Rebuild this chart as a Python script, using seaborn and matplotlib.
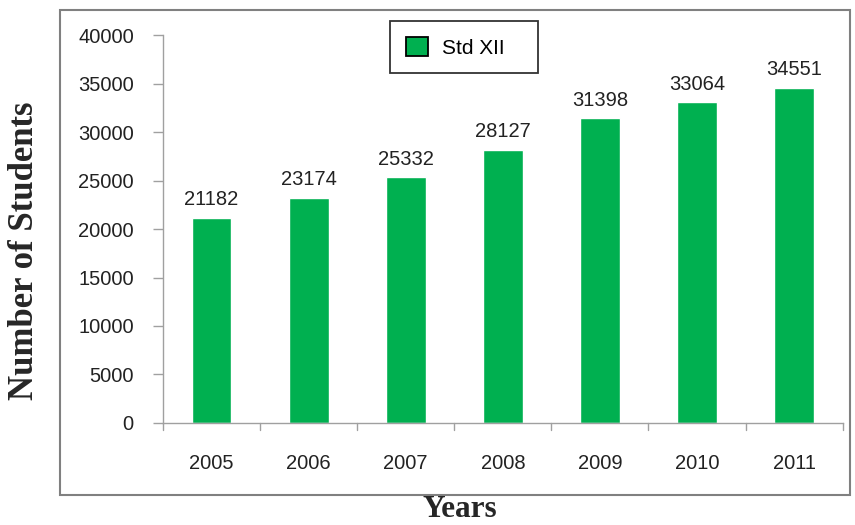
import matplotlib
matplotlib.use('Agg')
import matplotlib.pyplot as plt
import seaborn as sns
import pandas as pd
from matplotlib.patches import Rectangle, Patch

years = ['2005', '2006', '2007', '2008', '2009', '2010', '2011']
students = [21182, 23174, 25332, 28127, 31398, 33064, 34551]
series_name = 'Std XII'

df = pd.DataFrame({'Year': years, 'Students': students})

sns.set_style('white')
plt.rcParams['font.family'] = ['Liberation Sans', 'DejaVu Sans']

fig = plt.figure(figsize=(8.55, 5.25), dpi=100)
ax = fig.add_axes([0.1906, 0.1943, 0.795, 0.739])

green = '#00B050'
sns.barplot(data=df, x='Year', y='Students', color=green, width=0.41,
            saturation=1, ax=ax)

# value labels
for i, v in enumerate(students):
    ax.text(i, v + 900, str(v), ha='center', va='bottom', fontsize=14.5, color='#222222')

ax.set_ylim(0, 40000)
ax.set_xlim(-0.5, len(years) - 0.5)
ax.set_yticks(range(0, 40001, 5000))
ax.tick_params(axis='y', labelsize=14.5, colors='#222222', length=7, width=1,
               direction='out', left=True, pad=14)
ax.tick_params(axis='y', color='#a0a0a0')
ax.tick_params(axis='x', labelsize=14.5, labelcolor='#222222', length=0, pad=22)

# category separators on x axis
for b in [i - 0.5 for i in range(len(years) + 1)]:
    ax.plot([b, b], [0, -0.018], transform=ax.get_xaxis_transform(),
            color='#a0a0a0', lw=1, clip_on=False)

for s in ['top', 'right']:
    ax.spines[s].set_visible(False)
for s in ['left', 'bottom']:
    ax.spines[s].set_color('#a0a0a0')
    ax.spines[s].set_linewidth(1)

ax.set_xlabel('')
ax.set_ylabel('')

# outer chart box
fig.patches.append(Rectangle((0.0702, 0.057), 0.924, 0.924, transform=fig.transFigure,
                             fill=False, edgecolor='#808080', lw=1.5))

fig.text(0.029, 0.522, 'Number of Students', rotation=90, ha='center', va='center',
         fontsize=25, fontweight='bold', family=['Liberation Serif', 'DejaVu Serif'])
fig.text(0.538, 0.001, 'Years', ha='center', va='bottom',
         fontsize=22.5, fontweight='bold', family=['Liberation Serif', 'DejaVu Serif'])

handle = Patch(facecolor=green, edgecolor='black', linewidth=1.3, label=series_name)
leg = ax.legend(handles=[handle], loc='upper center', bbox_to_anchor=(0.443, 1.035),
                fontsize=15, frameon=True, fancybox=False, borderpad=0.75,
                handlelength=1.05, handleheight=1.05, handletextpad=0.7,
                borderaxespad=0)
leg.get_frame().set_edgecolor('black')
leg.get_frame().set_linewidth(1.3)
# trailing spaces widen the box like the reference
for t in leg.get_texts():
    t.set_color('black')
    t.set_text(series_name + '   ')

fig.savefig('out.png', dpi=100)
